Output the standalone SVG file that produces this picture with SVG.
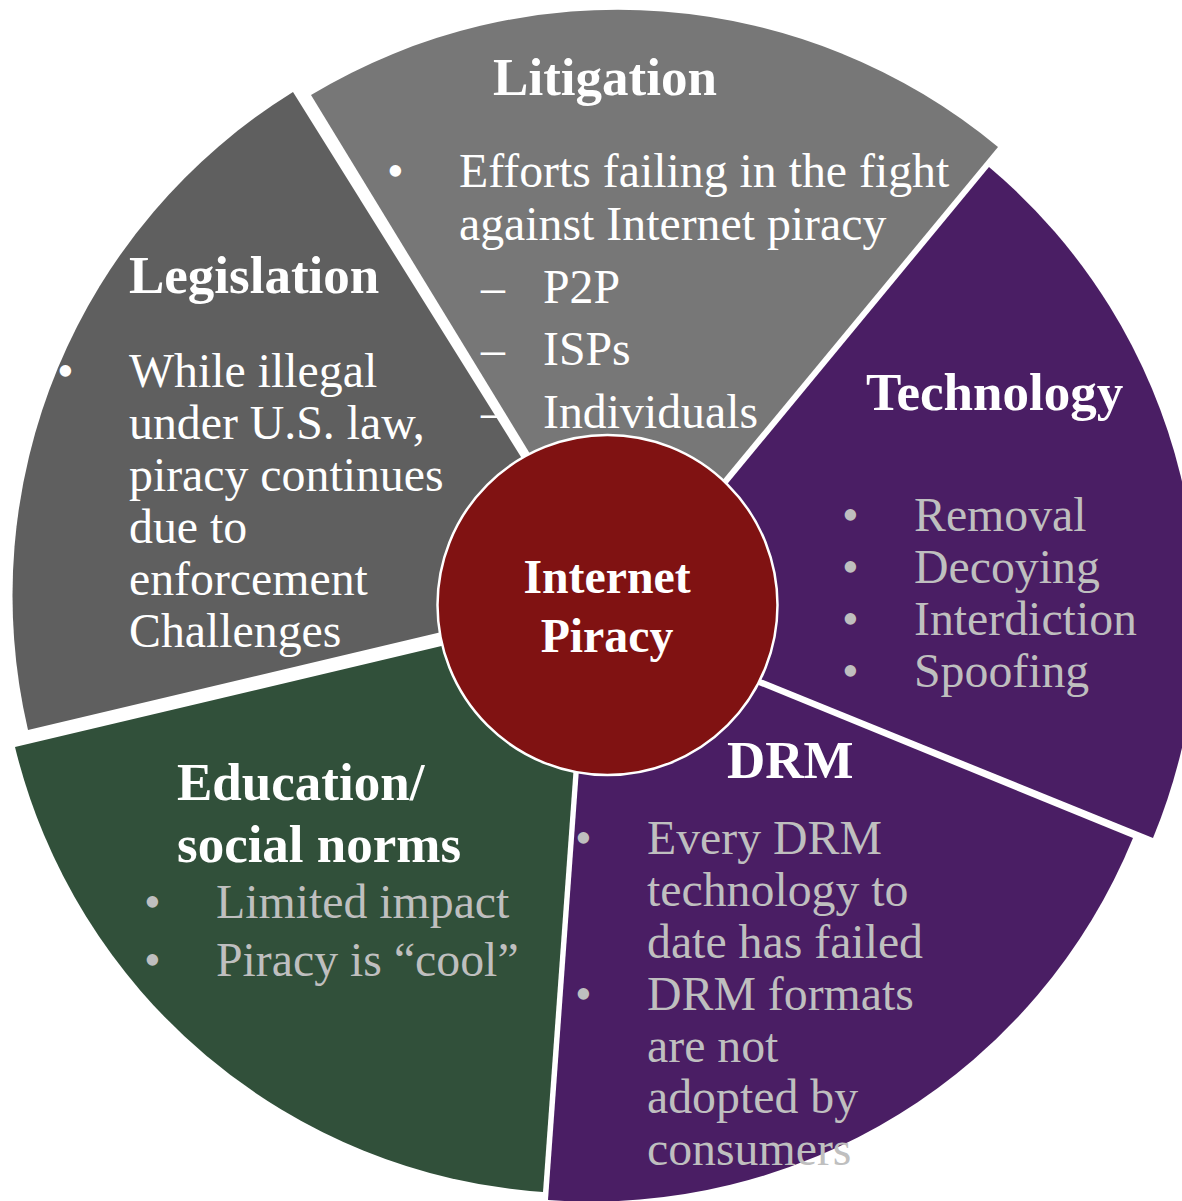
<svg xmlns="http://www.w3.org/2000/svg" width="1182" height="1201" viewBox="0 0 1182 1201">
  <style>
    text { font-family: "Liberation Serif", "Times New Roman", serif; }
    .title { font-size: 53px; font-weight: bold; fill: #ffffff; }
    .body { font-size: 47.8px; fill: #ffffff; }
    .soft { font-size: 47.8px; fill: #bfbfbf; }
    .hub { font-size: 47.8px; font-weight: bold; fill: #ffffff; }
  </style>
  <rect width="1182" height="1201" fill="#ffffff"/>

  <!-- Legislation wedge (left) -->
  <g id="legislation">
    <path d="M606,593 L28,730 A592,592 0 0 1 293,92 Z" fill="#5f5f5f"/>
    <text class="title" x="129" y="293">Legislation</text>
    <text class="body" x="57" y="387">•</text>
    <text class="body" x="129" y="387">While illegal</text>
    <text class="body" x="129" y="439">under U.S. law,</text>
    <text class="body" x="129" y="491">piracy continues</text>
    <text class="body" x="129" y="543">due to</text>
    <text class="body" x="129" y="595">enforcement</text>
    <text class="body" x="129" y="647">Challenges</text>
  </g>

  <!-- Litigation wedge (top) -->
  <g id="litigation">
    <path d="M621,603 L311,95 A595,595 0 0 1 998,147 Z" fill="#777777"/>
    <text class="title" x="605" y="95" text-anchor="middle">Litigation</text>
    <text class="body" x="387" y="187">•</text>
    <text class="body" x="459" y="187">Efforts failing in the fight</text>
    <text class="body" x="459" y="240">against Internet piracy</text>
    <text class="body" x="481" y="303">–</text>
    <text class="body" x="543" y="303">P2P</text>
    <text class="body" x="481" y="365">–</text>
    <text class="body" x="543" y="365">ISPs</text>
    <text class="body" x="481" y="428">–</text>
    <text class="body" x="543" y="428">Individuals</text>
  </g>

  <!-- Technology wedge (right) -->
  <g id="technology">
    <path d="M615,620 L989,167 A585,585 0 0 1 1153,838 Z" fill="#4a1e64"/>
    <text class="title" x="866" y="410">Technology</text>
    <text class="soft" x="842" y="531">•</text>
    <text class="soft" x="914" y="531">Removal</text>
    <text class="soft" x="842" y="583">•</text>
    <text class="soft" x="914" y="583">Decoying</text>
    <text class="soft" x="842" y="635">•</text>
    <text class="soft" x="914" y="635">Interdiction</text>
    <text class="soft" x="842" y="687">•</text>
    <text class="soft" x="914" y="687">Spoofing</text>
  </g>

  <!-- DRM wedge (lower right) -->
  <g id="drm">
    <path d="M590,616 L1133,838 A585,585 0 0 1 548,1200 Z" fill="#4a1e64"/>
    <text class="title" x="727" y="778">DRM</text>
    <text class="soft" x="575" y="854">•</text>
    <text class="soft" x="647" y="854">Every DRM</text>
    <text class="soft" x="647" y="906">technology to</text>
    <text class="soft" x="647" y="958">date has failed</text>
    <text class="soft" x="575" y="1010">•</text>
    <text class="soft" x="647" y="1010">DRM formats</text>
    <text class="soft" x="647" y="1062">are not</text>
    <text class="soft" x="647" y="1113">adopted by</text>
    <text class="soft" x="647" y="1165">consumers</text>
  </g>

  <!-- Education / social norms wedge (lower left) -->
  <g id="education">
    <path d="M585,612 L543,1192 A585,585 0 0 1 15,747 Z" fill="#31503a"/>
    <text class="title" x="177" y="800">Education/</text>
    <text class="title" x="177" y="862">social norms</text>
    <text class="soft" x="144" y="918">•</text>
    <text class="soft" x="216" y="918">Limited impact</text>
    <text class="soft" x="144" y="976">•</text>
    <text class="soft" x="216" y="976">Piracy is “cool”</text>
  </g>

  <!-- Hub -->
  <g id="internet-piracy">
    <circle cx="607.5" cy="605" r="170" fill="#801212" stroke="#ffffff" stroke-width="2.5"/>
    <text class="hub" x="607" y="593" text-anchor="middle">Internet</text>
    <text class="hub" x="607" y="652" text-anchor="middle">Piracy</text>
  </g>

  <!-- No connectors: the wedges abut the hub directly -->
  <g id="connectors"/>
</svg>
